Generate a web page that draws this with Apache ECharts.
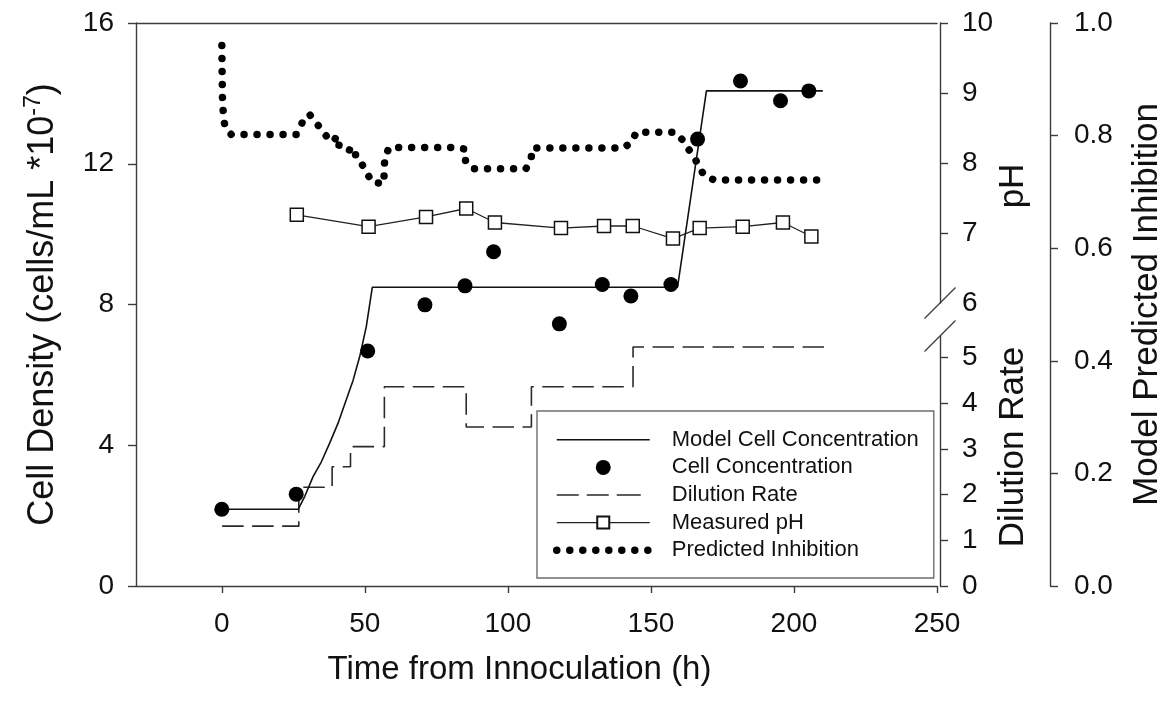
<!DOCTYPE html>
<html>
<head>
<meta charset="utf-8">
<script src="https://cdn.jsdelivr.net/npm/echarts@6/dist/echarts.min.js"></script>
<style>
  html, body { margin: 0; padding: 0; background: #fff; }
  #chart { width: 1173px; height: 706px; }
</style>
</head>
<body>
<div id="chart"></div>
<script>
// ---- tick values ----
const timeTicks = [0, 50, 100, 150, 200, 250];
const phTicks = [6, 7, 8, 9, 10];
const dilutionTicks = [0, 1, 2, 3, 4, 5];

// ---- measured cell concentration (cells/mL x10^-7) ----
const cellTime  = [0, 26, 51, 71, 85, 95, 118, 133, 143, 157, 166.3, 181.3, 195.3, 205.2];
const cellValue = [2.18, 2.61, 6.68, 7.99, 8.53, 9.50, 7.45, 8.57, 8.24, 8.57, 12.70, 14.35, 13.79, 14.07];

// ---- model cell concentration ----
const modelTime  = [0, 26.7, 29, 31.9, 34.8, 37.7, 40.6, 43.5, 45.9, 48.2, 50.5, 52.6, 159.3, 169.4, 210.1];
const modelValue = [2.18, 2.18, 2.55, 3.11, 3.53, 4.06, 4.62, 5.29, 5.85, 6.52, 7.37, 8.49, 8.49, 14.07, 14.07];

// ---- dilution rate (stepwise, value holds until next change) ----
const dilutionTime = [0, 26.7, 38.3, 44.7, 56.5, 85.0, 107.7, 143.1, 210.4];
const dilutionRate = [1.31, 2.16, 2.61, 3.05, 4.36, 3.48, 4.36, 5.23, 5.23];

// ---- measured pH ----
const phTime  = [26, 51, 71, 85, 95, 118, 133, 143, 157, 166.3, 181.3, 195.3, 205.2];
const phValue = [7.26, 7.09, 7.23, 7.35, 7.15, 7.07, 7.10, 7.10, 6.92, 7.07, 7.09, 7.15, 6.95];

// ---- model predicted inhibition ----
const inhibitionTime = [0, 0.2, 0.6, 1.2, 3.3, 26, 27.5, 28.3, 30.6, 33, 35, 37.4, 39.9, 38.6, 42.2, 44.8, 44, 47.1, 49, 50.8, 52.5, 56.7, 56.7, 57, 58.5, 81.1, 85.1, 85.2, 88.1, 106.3, 108, 108.6, 140.4, 143.2, 144.9, 158.4, 160.9, 163, 165, 166.6, 168.6, 172.2, 208.6];
const inhibitionValue = [0.960, 0.87, 0.83, 0.815, 0.802, 0.802, 0.815, 0.826, 0.838, 0.823, 0.809, 0.794, 0.797, 0.785, 0.782, 0.777, 0.766, 0.766, 0.749, 0.733, 0.717, 0.715, 0.738, 0.761, 0.779, 0.779, 0.776, 0.753, 0.741, 0.741, 0.755, 0.778, 0.778, 0.788, 0.806, 0.806, 0.793, 0.777, 0.763, 0.747, 0.729, 0.721, 0.721];

const zip = (xs, ys) => xs.map((x, i) => [x, ys[i]]);

// ---- layout ----
const FONT = '"Liberation Sans", Arial, Helvetica, sans-serif';
const INK = '#111';
const AXIS = '#3c3c3c';
const NONE = 'rgba(0,0,0,0)';
const LEFT = 136, RIGHT = 940, TOP = 23, BOTTOM = 586;
const PH_BOTTOM = 303, DIL_TOP = 336;
const TMIN = -30, TMAX = 250;
const TICK_FS = 28, TITLE_FS = 33, VTITLE_FS = 35;

const DOTS = [0.01, 13];
const DASHES = [21.5, 8.5];

const labelStyle = { color: INK, fontFamily: FONT, fontSize: TICK_FS, margin: 22 };
const lineStyle = { color: AXIS, width: 1.4 };
const tickStyle = { show: true, inside: false, length: 8, lineStyle: { color: AXIS, width: 1.4 } };

const hiddenTime = (grid) => ({ gridIndex: grid, type: 'value', min: TMIN, max: TMAX, show: false });

const chart = echarts.init(document.getElementById('chart'));
chart.setOption({
  animation: false,
  backgroundColor: '#fff',
  grid: [
    { left: LEFT, top: TOP, width: RIGHT - LEFT, height: BOTTOM - TOP },
    { left: LEFT, top: TOP, width: RIGHT - LEFT, height: PH_BOTTOM - TOP },
    { left: LEFT, top: DIL_TOP, width: RIGHT - LEFT, height: BOTTOM - DIL_TOP }
  ],
  xAxis: [
    {
      gridIndex: 0, type: 'value', position: 'bottom', min: TMIN, max: TMAX,
      name: 'Time from Innoculation (h)', nameLocation: 'middle', nameGap: 67,
      nameTextStyle: { color: INK, fontFamily: FONT, fontSize: TITLE_FS, padding: [0, 34, 0, 0] },
      axisLine: { show: true, onZero: false, lineStyle },
      axisTick: Object.assign({ customValues: timeTicks }, tickStyle, { length: 7 }),
      axisLabel: Object.assign({ customValues: timeTicks }, labelStyle, { margin: 24 }),
      splitLine: { show: false }
    },
    {
      gridIndex: 0, type: 'value', position: 'top', min: TMIN, max: TMAX,
      axisLine: { show: true, onZero: false, lineStyle },
      axisTick: { show: false }, axisLabel: { show: false }, splitLine: { show: false }
    },
    hiddenTime(1),
    hiddenTime(2)
  ],
  yAxis: [
    {
      gridIndex: 0, type: 'value', position: 'left', min: 0, max: 16, interval: 4,
      name: 'Cell Density (cells/mL *10{sup|-7})', nameLocation: 'middle', nameGap: 72,
      nameTextStyle: {
        color: INK, fontFamily: FONT, fontSize: 36, lineHeight: 42,
        rich: { sup: { fontFamily: FONT, fontSize: 23, lineHeight: 23, verticalAlign: 'top', color: INK } }
      },
      axisLine: { show: true, onZero: false, lineStyle },
      axisTick: tickStyle,
      axisLabel: labelStyle,
      splitLine: { show: false }
    },
    {
      gridIndex: 0, type: 'value', position: 'right', offset: 113, min: 0, max: 1, interval: 0.2,
      name: 'Model Predicted Inhibition', nameLocation: 'middle', nameGap: 80,
      nameTextStyle: { color: INK, fontFamily: FONT, fontSize: VTITLE_FS },
      axisLine: { show: true, onZero: false, lineStyle },
      axisTick: tickStyle,
      axisLabel: Object.assign({ formatter: v => v.toFixed(1) }, labelStyle, { margin: 24 }),
      splitLine: { show: false }
    },
    {
      gridIndex: 1, type: 'value', position: 'right', min: 6, max: 10, interval: 1,
      axisLine: { show: true, onZero: false, lineStyle },
      axisTick: Object.assign({ customValues: [7, 8, 9, 10] }, tickStyle),
      axisLabel: Object.assign({ customValues: phTicks }, labelStyle),
      splitLine: { show: false }
    },
    {
      gridIndex: 2, type: 'value', position: 'right', min: 0, max: 5.47,
      axisLine: { show: true, onZero: false, lineStyle },
      axisTick: Object.assign({ customValues: dilutionTicks }, tickStyle),
      axisLabel: Object.assign({ customValues: dilutionTicks }, labelStyle),
      splitLine: { show: false }
    }
  ],
  legend: {
    orient: 'vertical', left: 537, top: 411,
    padding: [15, 15, 14, 16],
    borderColor: '#6e6e6e', borderWidth: 1.4,
    itemWidth: 93, itemHeight: 15, itemGap: 0,
    selectedMode: false,
    textStyle: { color: INK, fontFamily: FONT, fontSize: 22, lineHeight: 27.6, padding: [0, 0, 0, 17] },
    data: [
      { name: 'Model Cell Concentration', lineStyle: { width: 1.6 } },
      { name: 'Cell Concentration' },
      { name: 'Dilution Rate', lineStyle: { width: 1.6, type: [22, 8, 22, 8, 24, 20] } },
      { name: 'Measured pH', lineStyle: { width: 1.3 } },
      { name: 'Predicted Inhibition', lineStyle: { width: 7.5, type: DOTS, cap: 'round' } }
    ]
  },
  series: [
    {
      name: 'Predicted Inhibition', type: 'line', xAxisIndex: 0, yAxisIndex: 1,
      data: zip(inhibitionTime, inhibitionValue), symbol: 'none', z: 2,
      itemStyle: { color: NONE },
      lineStyle: { color: '#000', width: 7.5, type: DOTS, cap: 'round', join: 'round' }
    },
    {
      name: 'Dilution Rate', type: 'line', xAxisIndex: 3, yAxisIndex: 3, step: 'end',
      data: zip(dilutionTime, dilutionRate), symbol: 'none', z: 3,
      itemStyle: { color: NONE },
      lineStyle: { color: '#2a2a2a', width: 1.6, type: DASHES }
    },
    {
      name: 'Model Cell Concentration', type: 'line', xAxisIndex: 0, yAxisIndex: 0,
      data: zip(modelTime, modelValue), symbol: 'none', z: 4,
      itemStyle: { color: NONE },
      lineStyle: { color: '#111', width: 1.6 }
    },
    {
      name: 'Measured pH', type: 'line', xAxisIndex: 2, yAxisIndex: 2,
      data: zip(phTime, phValue), symbol: 'rect', symbolSize: 13, z: 5,
      lineStyle: { color: '#222', width: 1.3 },
      itemStyle: { color: '#fff', borderColor: '#111', borderWidth: 1.5 }
    },
    {
      name: 'Cell Concentration', type: 'scatter', xAxisIndex: 0, yAxisIndex: 0,
      data: zip(cellTime, cellValue), symbol: 'circle', symbolSize: 15, z: 6,
      itemStyle: { color: '#000', opacity: 1 }
    }
  ],
  graphic: [
    // axis break marks on the pH / dilution axis
    { type: 'line', z: 10, shape: { x1: RIGHT - 15.5, y1: PH_BOTTOM + 15.5, x2: RIGHT + 15.5, y2: PH_BOTTOM - 15.5 },
      style: { stroke: AXIS, lineWidth: 1.3 } },
    { type: 'line', z: 10, shape: { x1: RIGHT - 15.5, y1: DIL_TOP + 15.5, x2: RIGHT + 15.5, y2: DIL_TOP - 15.5 },
      style: { stroke: AXIS, lineWidth: 1.3 } },
    { type: 'text', x: 1013, y: 186, rotation: Math.PI / 2,
      style: { text: 'pH', fill: INK, fontFamily: FONT, fontSize: VTITLE_FS, align: 'center', verticalAlign: 'middle', textAlign: 'center', textVerticalAlign: 'middle' } },
    { type: 'text', x: 1013, y: 447, rotation: Math.PI / 2,
      style: { text: 'Dilution Rate', fill: INK, fontFamily: FONT, fontSize: VTITLE_FS, align: 'center', verticalAlign: 'middle', textAlign: 'center', textVerticalAlign: 'middle' } }
  ]
});
</script>
</body>
</html>
